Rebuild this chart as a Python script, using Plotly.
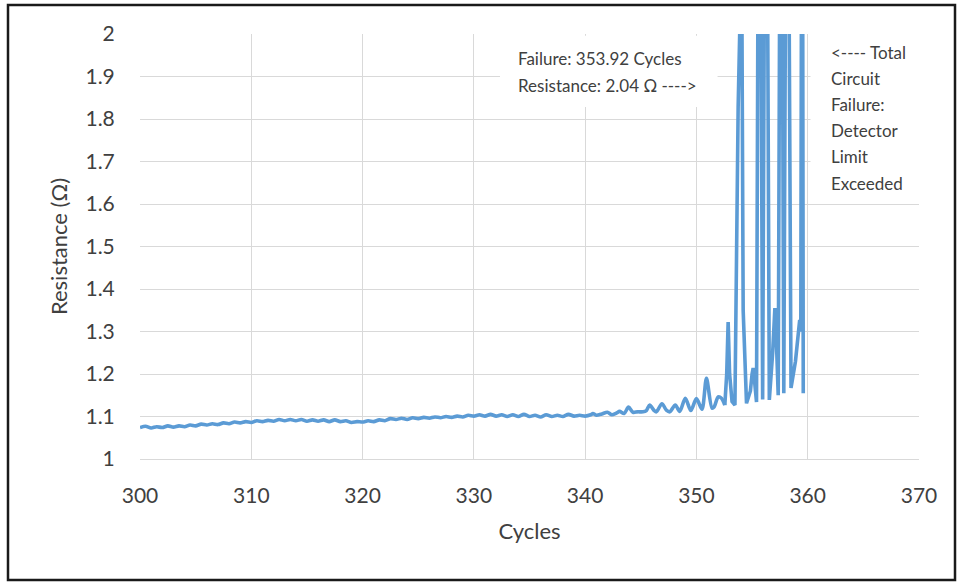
import plotly.graph_objects as go

# ---------------- data ----------------
# slow-drift portion (smoothed line)
cycles_base = [300.0, 300.5, 301.0, 301.5, 302.0, 302.5, 303.0, 303.5, 304.0, 304.5,
               305.0, 305.5, 306.0, 306.5, 307.0, 307.5, 308.0, 308.5, 309.0, 309.5,
               310.0, 310.5, 311.0, 311.5, 312.0, 312.5, 313.0, 313.5, 314.0, 314.5,
               315.0, 315.5, 316.0, 316.5, 317.0, 317.5, 318.0, 318.5, 319.0, 319.5,
               320.0, 320.5, 321.0, 321.5, 322.0, 322.5, 323.0, 323.5, 324.0, 324.5,
               325.0, 325.5, 326.0, 326.5, 327.0, 327.5, 328.0, 328.5, 329.0, 329.5,
               330.0, 330.5, 331.0, 331.5, 332.0, 332.5, 333.0, 333.5, 334.0, 334.5,
               335.0, 335.5, 336.0, 336.5, 337.0, 337.5, 338.0, 338.5, 339.0, 339.5,
               340.0, 340.5, 340.7, 341.0, 341.5, 342.0, 342.4, 342.8, 343.1, 343.5,
               343.9, 344.3, 344.7, 345.2, 345.5, 345.8, 346.2, 346.4, 346.9, 347.3,
               347.6, 348.1, 348.5, 349.0, 349.5, 350.0, 350.5, 350.9, 351.4, 351.6,
               351.95, 352.25, 352.55]
res_base = [1.074, 1.077, 1.073, 1.076, 1.074, 1.078, 1.075, 1.078, 1.076, 1.080,
            1.078, 1.082, 1.080, 1.083, 1.081, 1.085, 1.083, 1.087, 1.085, 1.088,
            1.086, 1.090, 1.088, 1.091, 1.089, 1.093, 1.090, 1.093, 1.090, 1.093,
            1.089, 1.092, 1.089, 1.092, 1.088, 1.092, 1.088, 1.090, 1.086, 1.088,
            1.087, 1.090, 1.088, 1.092, 1.090, 1.095, 1.093, 1.096, 1.093, 1.097,
            1.095, 1.098, 1.096, 1.099, 1.097, 1.100, 1.098, 1.101, 1.099, 1.103,
            1.101, 1.104, 1.101, 1.105, 1.101, 1.104, 1.100, 1.104, 1.100, 1.105,
            1.100, 1.103, 1.099, 1.104, 1.100, 1.103, 1.100, 1.105, 1.101, 1.103,
            1.101, 1.104, 1.107, 1.103, 1.106, 1.110, 1.104, 1.108, 1.112, 1.107,
            1.122, 1.110, 1.111, 1.111, 1.114, 1.127, 1.114, 1.111, 1.130, 1.115,
            1.111, 1.127, 1.112, 1.143, 1.114, 1.142, 1.117, 1.190, 1.120, 1.123,
            1.146, 1.143, 1.127]

# failure portion (values above 2 are beyond the detector display limit)
cycles_fail = [352.55, 352.72, 352.85, 352.98, 353.2, 353.46, 353.75, 353.92, 354.0,
               354.2, 354.5, 354.85, 355.0, 355.1, 355.2, 355.4, 355.65, 355.95,
               356.25, 356.55, 356.85, 356.98, 357.05, 357.12, 357.35, 357.6, 357.85,
               358.15, 358.5, 358.9, 359.15, 359.28, 359.38, 359.5, 359.6]
res_fail = [1.127, 1.200, 1.322, 1.200, 1.135, 1.127, 1.830, 2.040, 2.600,
            1.350, 1.131, 1.160, 1.200, 1.214, 1.190, 1.134, 3.000, 1.140,
            3.000, 1.139, 1.250, 1.340, 1.355, 1.330, 1.150, 3.000, 1.155,
            3.000, 1.167, 1.230, 1.300, 1.327, 1.300, 3.000, 1.155]

x_ticks = [300, 310, 320, 330, 340, 350, 360, 370]
note_left = ["Failure: 353.92 Cycles", "Resistance: 2.04 \u03a9 ---->"]
note_right = ["<---- Total", "Circuit", "Failure:", "Detector", "Limit", "Exceeded"]

# ---------------- figure ----------------
BLUE = "#5B9BD5"
GRID = "#d9d9d9"
TXT = "#404040"
FONT = "Lato"

fig = go.Figure()
fig.add_trace(go.Scatter(x=cycles_base, y=res_base, mode="lines",
                         line=dict(color=BLUE, width=3.6, shape="spline", smoothing=0.8),
                         hoverinfo="skip", showlegend=False))
fig.add_trace(go.Scatter(x=cycles_fail, y=res_fail, mode="lines",
                         line=dict(color=BLUE, width=3.6),
                         hoverinfo="skip", showlegend=False))

W, H = 961, 582
L, R, T, B = 140, 42, 34, 123
PW, PH = W - L - R, H - T - B


def px(xp):
    return (xp - L) / PW


def py(yp):
    return (H - B - yp) / PH


shapes = [
    # white text boxes over gridlines
    dict(type="rect", xref="x", yref="y", x0=332.35, x1=351.9, y0=1.828, y1=1.996,
         fillcolor="white", line=dict(width=0), layer="between"),
    dict(type="rect", xref="x", yref="y", x0=360.25, x1=371.5, y0=1.61, y1=2.02,
         fillcolor="white", line=dict(width=0), layer="between"),
    # outer frame
    dict(type="rect", xref="paper", yref="paper", x0=px(8), x1=px(955), y0=py(580), y1=py(5),
         line=dict(color="#1a1a1a", width=2.5), fillcolor="rgba(0,0,0,0)", layer="above"),
]

annotations = []
for i, t in enumerate(note_left):
    annotations.append(dict(text=t, xref="paper", yref="paper", x=px(516), y=py(58 + 27 * i),
                            xanchor="left", yanchor="middle", showarrow=False,
                            font=dict(family=FONT, size=17, color=TXT)))
for i, t in enumerate(note_right):
    annotations.append(dict(text=t, xref="paper", yref="paper", x=px(829), y=py(52 + 26.2 * i),
                            xanchor="left", yanchor="middle", showarrow=False,
                            font=dict(family=FONT, size=17, color=TXT)))

fig.update_layout(
    width=W, height=H,
    margin=dict(l=L, r=R, t=T, b=B, pad=0),
    paper_bgcolor="white", plot_bgcolor="white",
    shapes=shapes, annotations=annotations,
    font=dict(family=FONT, color=TXT),
    xaxis=dict(range=[300, 370], tickvals=x_ticks, showgrid=True, gridcolor=GRID, gridwidth=1,
               zeroline=False, showline=True, linecolor=GRID, linewidth=1,
               ticks="outside", ticklen=18, tickcolor="rgba(0,0,0,0)",
               tickfont=dict(family=FONT, size=21, color=TXT),
               title=dict(text="Cycles", font=dict(family=FONT, size=22, color=TXT), standoff=17)),
    yaxis=dict(range=[1, 2], dtick=0.1, showgrid=True, gridcolor=GRID, gridwidth=1,
               zeroline=False, showline=False,
               ticks="outside", ticklen=20, tickcolor="rgba(0,0,0,0)",
               tickfont=dict(family=FONT, size=21, color=TXT),
               title=dict(text="Resistance (\u03a9)", font=dict(family=FONT, size=22, color=TXT),
                          standoff=11)),
)

fig.write_html("out.html")
